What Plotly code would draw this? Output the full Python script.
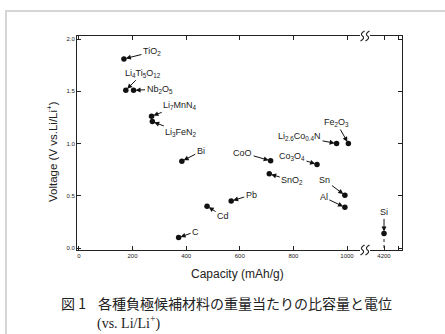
import plotly.graph_objects as go

# ---- data ----
materials = ["TiO<sub>2</sub>", "Li<sub>4</sub>Ti<sub>5</sub>O<sub>12</sub>", "Nb<sub>2</sub>O<sub>5</sub>",
             "Li<sub>7</sub>MnN<sub>4</sub>", "Li<sub>3</sub>FeN<sub>2</sub>", "Bi", "CoO",
             "Co<sub>3</sub>O<sub>4</sub>", "Li<sub>2.6</sub>Co<sub>0.4</sub>N", "Fe<sub>2</sub>O<sub>3</sub>",
             "SnO<sub>2</sub>", "Sn", "Al", "Pb", "Cd", "C", "Si"]
capacity = [168, 175, 204, 271, 274, 384, 715, 888, 961, 1005, 710, 992, 992, 568, 478, 372, 4200]
voltage = [1.81, 1.51, 1.51, 1.26, 1.21, 0.83, 0.835, 0.80, 1.0, 1.0, 0.71, 0.505, 0.39, 0.45, 0.40, 0.10, 0.14]
# label offsets (pixels) from each point
label_dx = [28, 17, 26, 28, 29, 19, -28, -25, -37, -12, 23, -20, -21, 20, 16, 17, 0]
label_dy = [-7, -17, -1, -11, 11, -10, -8, -8, -7, -21, 7, -15, -10, -6, 10, -6, -21]

x_tick_values = [0, 200, 400, 600, 800, 1000, 4200]
x_tick_labels = ["0", "200", "400", "600", "800", "1000", "4200"]
y_tick_values = [0.0, 0.5, 1.0, 1.5, 2.0]

BREAK_POS = 1067   # display position of the axis break
POS_4200 = 1138    # display position of 4200 after the break

L, R, T, B = 77, 402, 36, 250   # plot box in pixels
W, H = R - L, B - T


def disp_x(v):
    """Broken-axis transform: values above the break are shifted to the right segment."""
    if v <= 1100:
        return v
    return POS_4200 + (v - 4200)


def px(xp):
    return (xp - L) / W


def py(yp):
    return (B - yp) / H


xs = [disp_x(v) for v in capacity]

fig = go.Figure()

# dashed drop line for Si
fig.add_trace(go.Scatter(x=[disp_x(4200), disp_x(4200)], y=[0, voltage[-1]],
                         mode="lines", line=dict(color="#222", width=1, dash="dot"),
                         hoverinfo="skip", showlegend=False))

fig.add_trace(go.Scatter(x=xs, y=voltage, mode="markers",
                         marker=dict(color="#111", size=5.5),
                         text=materials, showlegend=False))

for name, x, y, dx, dy in zip(materials, xs, voltage, label_dx, label_dy):
    fig.add_annotation(x=x, y=y, text=name, showarrow=True, ax=dx, ay=dy,
                       arrowhead=2, arrowsize=1, arrowwidth=1, arrowcolor="#111",
                       standoff=2, font=dict(family="Arial, Liberation Sans", size=9, color="#222"))

# axis break marks: white gap + two wavy strokes
for yp in (1, 0):
    fig.add_shape(type="rect", xref="x", yref="paper", xsizemode="pixel", ysizemode="pixel",
                  xanchor=BREAK_POS, yanchor=yp, x0=-5, x1=5, y0=-2, y1=2,
                  fillcolor="white", line=dict(width=0), layer="above")
    for off in (-2.5, 2.5):
        path = (f"M {off+2},5 Q {off-3},2 {off},0 Q {off+3},-2 {off-2},-5")
        fig.add_shape(type="path", xref="x", yref="paper", xsizemode="pixel", ysizemode="pixel",
                      xanchor=BREAK_POS, yanchor=yp, path=path,
                      line=dict(color="#222", width=1.1), layer="above")

# light gray frame
fig.add_shape(type="rect", xref="paper", yref="paper",
              x0=px(6), x1=px(460), y0=py(350), y1=py(11),
              line=dict(color="#d6d6d6", width=2), layer="above")

# axis titles
fig.add_annotation(xref="paper", yref="paper", x=px(237), y=py(274), xanchor="center", yanchor="middle",
                   showarrow=False, text="Capacity (mAh/g)", font=dict(size=12, color="#222"))
fig.add_annotation(xref="paper", yref="paper", x=px(52), y=py(152), xanchor="center", yanchor="middle",
                   showarrow=False, textangle=-90,
                   text="Voltage (V vs.Li/Li<sup>+</sup>)", font=dict(size=11.5, color="#222"))

# caption
fig.add_annotation(xref="paper", yref="paper", x=px(59), y=py(303),
                   xanchor="left", yanchor="middle", showarrow=False,
                   text="図 1", font=dict(family="Noto Sans CJK JP", size=14, color="#222"))
fig.add_annotation(xref="paper", yref="paper", x=px(96), y=py(303),
                   xanchor="left", yanchor="middle", showarrow=False,
                   text="各種負極候補材料の重量当たりの比容量と電位",
                   font=dict(family="Noto Sans CJK JP", size=14, color="#222"))
fig.add_annotation(xref="paper", yref="paper", x=px(95), y=py(322),
                   xanchor="left", yanchor="middle", showarrow=False,
                   text="(vs. Li/Li<sup>+</sup>)",
                   font=dict(family="Liberation Serif", size=14, color="#222"))

fig.update_layout(
    width=445, height=334,
    margin=dict(l=L, r=445 - R, t=T, b=334 - B, autoexpand=False),
    paper_bgcolor="white", plot_bgcolor="white",
    font=dict(family="Arial, Liberation Sans", color="#222"),
    xaxis=dict(range=[-7, 1205], tickvals=[disp_x(v) for v in x_tick_values] + [1193],
               ticktext=x_tick_labels + [""], ticks="inside", ticklen=4, tickcolor="#222",
               showline=True, linecolor="#222", linewidth=1, mirror="ticks",
               showgrid=False, zeroline=False, tickfont=dict(size=6), automargin=False),
    yaxis=dict(range=[-0.019, 2.029], tickvals=y_tick_values, tickformat=".1f",
               ticks="inside", ticklen=4, tickcolor="#222",
               showline=True, linecolor="#222", linewidth=1, mirror="ticks",
               showgrid=False, zeroline=False, tickfont=dict(size=6), automargin=False),
)

fig.write_html("out.html", config={"displayModeBar": False},
               post_script="document.body.style.margin='0px';document.body.style.overflow='hidden';")
